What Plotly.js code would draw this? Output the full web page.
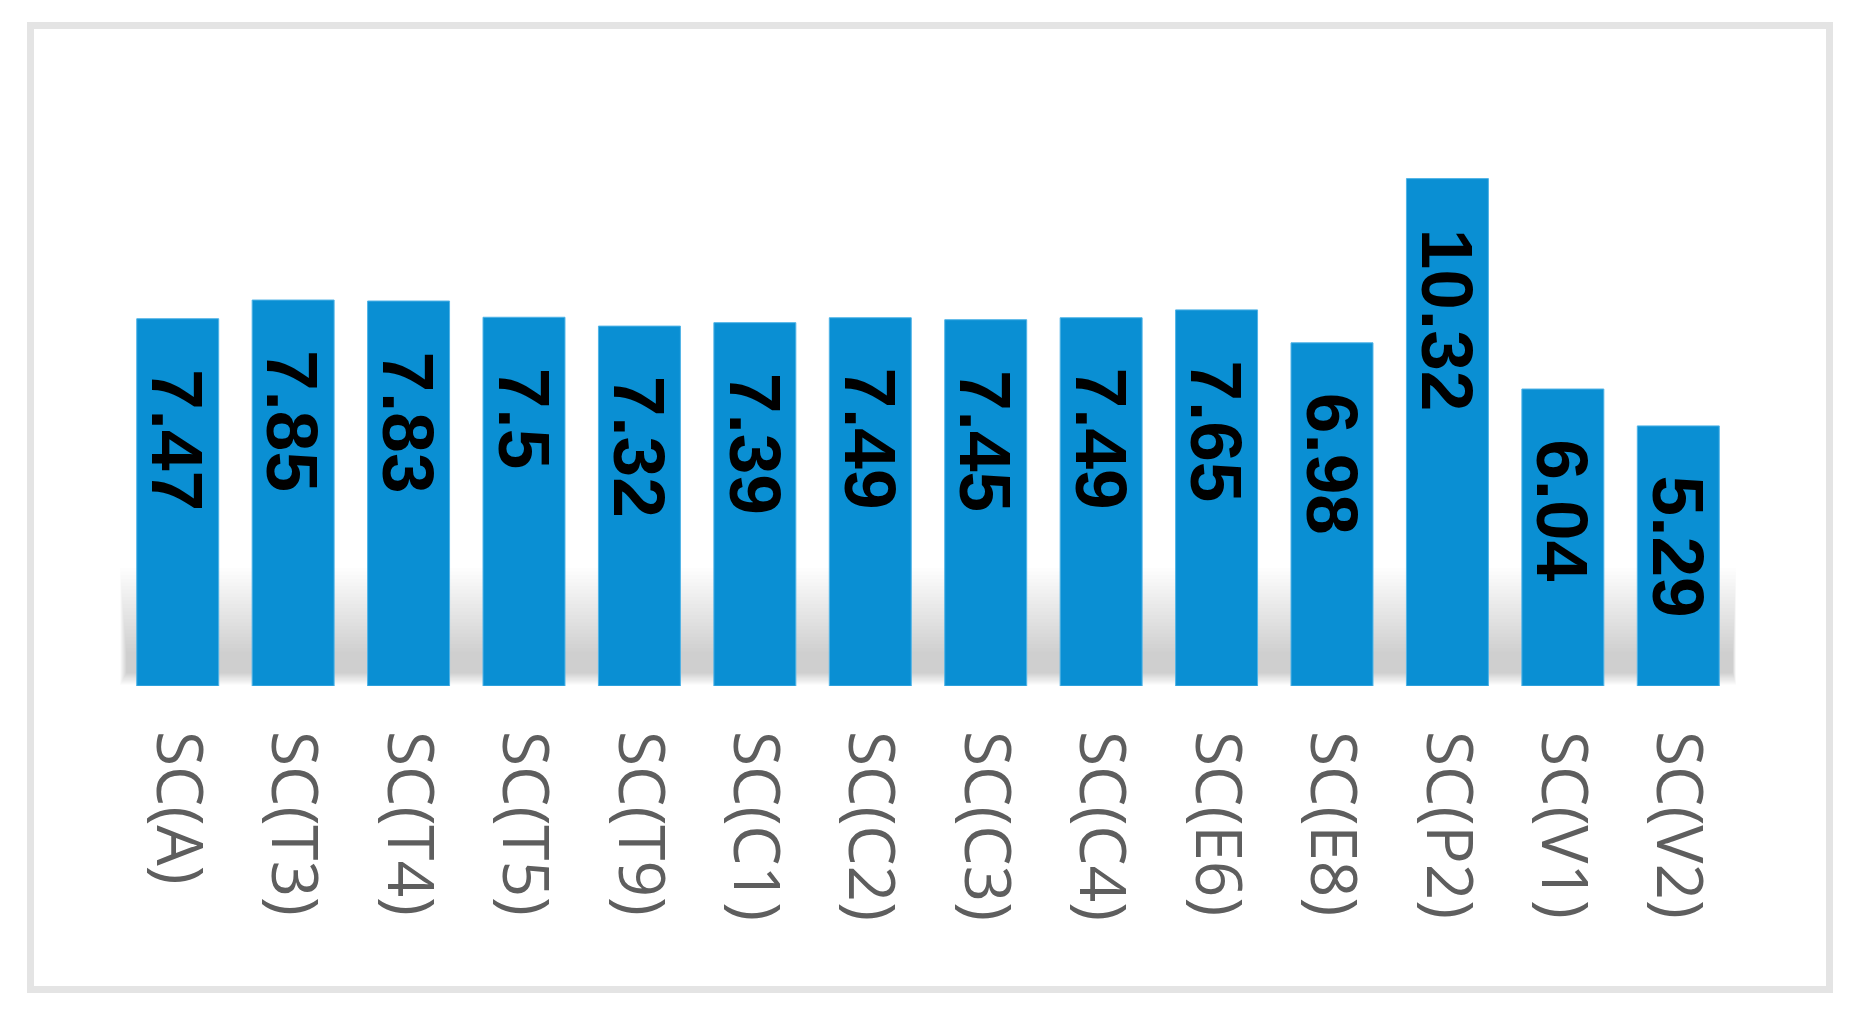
<!DOCTYPE html>
<html>
<head>
<meta charset="utf-8">
<script src="https://cdn.plot.ly/plotly-3.0.1.min.js"></script>
<style>
  html, body { margin: 0; padding: 0; background: #ffffff; }
  #wrap { position: relative; width: 1868px; height: 1030px; overflow: hidden; }
  #frame { position: absolute; left: 27px; top: 22px; width: 1792px; height: 957px; border: 7px solid #e4e4e4; }
  #chart { position: absolute; left: 0; top: 0; width: 1868px; height: 1030px; }
</style>
</head>
<body>
<div id="wrap">
  <div id="frame"></div>
  <div id="chart"></div>
</div>
<script>
const categories = ["SC(A)", "SC(T3)", "SC(T4)", "SC(T5)", "SC(T9)", "SC(C1)", "SC(C2)", "SC(C3)", "SC(C4)", "SC(E6)", "SC(E8)", "SC(P2)", "SC(V1)", "SC(V2)"];
const values = [7.47, 7.85, 7.83, 7.5, 7.32, 7.39, 7.49, 7.45, 7.49, 7.65, 6.98, 10.32, 6.04, 5.29];
const valueLabels = ["7.47", "7.85", "7.83", "7.5", "7.32", "7.39", "7.49", "7.45", "7.49", "7.65", "6.98", "10.32", "6.04", "5.29"];

const trace = {
  type: "bar",
  x: categories,
  y: values,
  marker: { color: "#0a8fd3", line: { color: "#4fb3e6", width: 1 } },
  hoverinfo: "x+y"
};

const annotations = categories.map((c, i) => ({
  x: c,
  y: values[i],
  xref: "x",
  yref: "y",
  text: valueLabels[i],
  showarrow: false,
  textangle: 90,
  yanchor: "top",
  xanchor: "center",
  yshift: -48,
  font: { family: "Liberation Sans, Arial, sans-serif", size: 73, color: "#000000", weight: "bold" }
}));

// soft shadow plane behind the bars: many thin translucent bands (style only)
const shapes = [];
const nBands = 24;
for (let k = 0; k < nBands; k++) {
  const t = k / (nBands - 1);           // 0 (outer) .. 1 (inner)
  const yLow = 0.02 + 0.25 * t;
  const yHigh = 2.4 - 1.7 * t;
  shapes.push({
    type: "rect",
    xref: "paper",
    yref: "y",
    x0: 0.0 + 0.004 * t,
    x1: 1.0 - 0.002 * t,
    y0: yLow,
    y1: yHigh,
    fillcolor: "#8c8c8c",
    opacity: 0.014,
    line: { width: 0 },
    layer: "below"
  });
}

const layout = {
  width: 1868,
  height: 1030,
  margin: { l: 120, r: 132, t: 96, b: 344 },
  paper_bgcolor: "rgba(0,0,0,0)",
  plot_bgcolor: "rgba(0,0,0,0)",
  bargap: 0.29,
  showlegend: false,
  xaxis: {
    type: "category",
    tickangle: 90,
    showgrid: false,
    zeroline: false,
    showline: false,
    ticks: "",
    ticklabelstandoff: 44,
    tickfont: { family: "Open Sans, sans-serif", size: 64, color: "#5e5e5e" }
  },
  yaxis: {
    range: [0, 12],
    visible: false,
    showgrid: false,
    zeroline: false
  },
  annotations: annotations,
  shapes: shapes
};

Plotly.newPlot("chart", [trace], layout, { displayModeBar: false, staticPlot: true });
</script>
</body>
</html>
